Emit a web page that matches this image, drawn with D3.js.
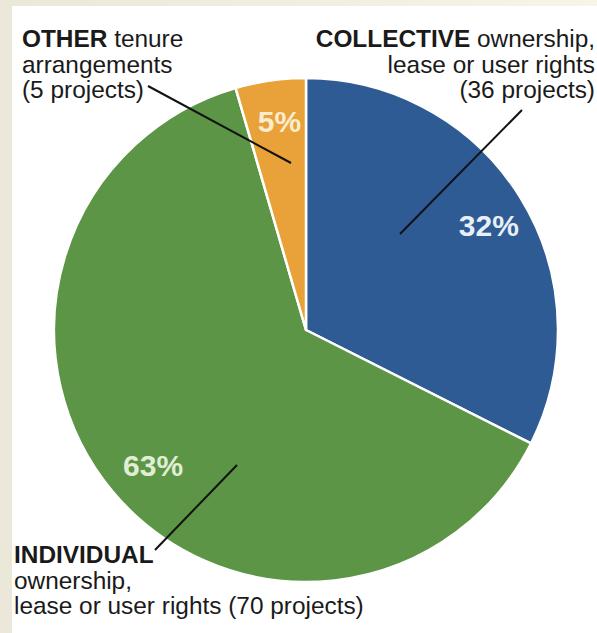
<!DOCTYPE html>
<html>
<head>
<meta charset="utf-8">
<script src="https://cdn.jsdelivr.net/npm/d3@7/dist/d3.min.js"></script>
<style>
  html, body { margin: 0; padding: 0; background: #f2efe3; }
  svg { display: block; }
</style>
</head>
<body>
<svg id="chart" width="597" height="633"></svg>
<script>
// Tenure arrangements of the projects, clockwise from 12 o'clock
const categories = ["COLLECTIVE", "INDIVIDUAL", "OTHER"];
const projects = [36, 70, 5];
const percentLabels = ["32%", "63%", "5%"];
const sliceColors = ["#2e5b94", "#5c9545", "#e9a13a"];
const percentColors = ["#e8eff8", "#e0eed6", "#fbeccf"];

const W = 597, H = 633;
const cx = 306, cy = 330, R = 252;

const svg = d3.select("#chart");

// beige page with white panel
const defs = svg.append("defs");
const grad = defs.append("linearGradient").attr("id", "edge").attr("x1", 0).attr("x2", 1);
grad.append("stop").attr("offset", 0).attr("stop-color", "#ebe8da");
grad.append("stop").attr("offset", 1).attr("stop-color", "#f7f4e8");
svg.append("rect").attr("width", W).attr("height", H).attr("fill", "url(#edge)");
svg.append("rect").attr("x", 12).attr("y", 6).attr("width", W - 12).attr("height", H - 6).attr("fill", "#ffffff");

const pie = d3.pie().sort(null).value(d => d);
const arcs = pie(projects);
const arc = d3.arc().innerRadius(0).outerRadius(R);

const g = svg.append("g").attr("transform", `translate(${cx},${cy})`);
g.selectAll("path.slice")
  .data(arcs)
  .join("path")
  .attr("class", "slice")
  .attr("d", arc)
  .attr("fill", (d, i) => sliceColors[i])
  .attr("stroke", "#ffffff")
  .attr("stroke-width", 2.5)
  .attr("stroke-linejoin", "round");

// percentage labels placed along each slice's mid-angle
const labelRadius = [210, 204, 216];
g.selectAll("text.pct")
  .data(arcs)
  .join("text")
  .attr("class", "pct")
  .attr("x", (d, i) => Math.sin((d.startAngle + d.endAngle) / 2) * labelRadius[i])
  .attr("y", (d, i) => -Math.cos((d.startAngle + d.endAngle) / 2) * labelRadius[i])
  .attr("dx", 4)
  .attr("dy", "0.53em")
  .attr("text-anchor", "middle")
  .attr("font-family", "'Liberation Sans', Arial, sans-serif")
  .attr("font-weight", "bold")
  .attr("font-size", 30)
  .attr("fill", (d, i) => percentColors[i])
  .text((d, i) => percentLabels[i]);

// leader lines from the category notes into the slices
const leaders = [
  [[522, 110], [400, 234]],
  [[155, 550], [237, 465]],
  [[148, 86], [291, 163]]
];
svg.selectAll("line.leader")
  .data(leaders)
  .join("line")
  .attr("class", "leader")
  .attr("x1", d => d[0][0]).attr("y1", d => d[0][1])
  .attr("x2", d => d[1][0]).attr("y2", d => d[1][1])
  .attr("stroke", "#111111")
  .attr("stroke-width", 2);

// category notes
const noteFont = "'Liberation Sans', Arial, sans-serif";
const notes = [
  { x: 595, anchor: "end", lines: [
      [["COLLECTIVE", true], [" ownership,", false]],
      [["lease or user rights", false]],
      [["(" + projects[0] + " projects)", false]]
    ], y: 47 },
  { x: 14, anchor: "start", lines: [
      [["INDIVIDUAL", true]],
      [["ownership,", false]],
      [["lease or user rights (" + projects[1] + " projects)", false]]
    ], y: 563 },
  { x: 22, anchor: "start", lines: [
      [["OTHER", true], [" tenure", false]],
      [["arrangements", false]],
      [["(" + projects[2] + " projects)", false]]
    ], y: 47 }
];
notes.forEach(n => {
  const t = svg.append("text")
    .attr("font-family", noteFont)
    .attr("font-size", 24.4)
    .attr("fill", "#1a1a1a")
    .attr("text-anchor", n.anchor)
    .attr("xml:space", "preserve");
  n.lines.forEach((line, li) => {
    line.forEach((seg, si) => {
      const ts = t.append("tspan").text(seg[0])
        .attr("font-weight", seg[1] ? "bold" : "normal");
      if (si === 0) ts.attr("x", n.x).attr("y", n.y + li * 25.5);
    });
  });
});
</script>
</body>
</html>
